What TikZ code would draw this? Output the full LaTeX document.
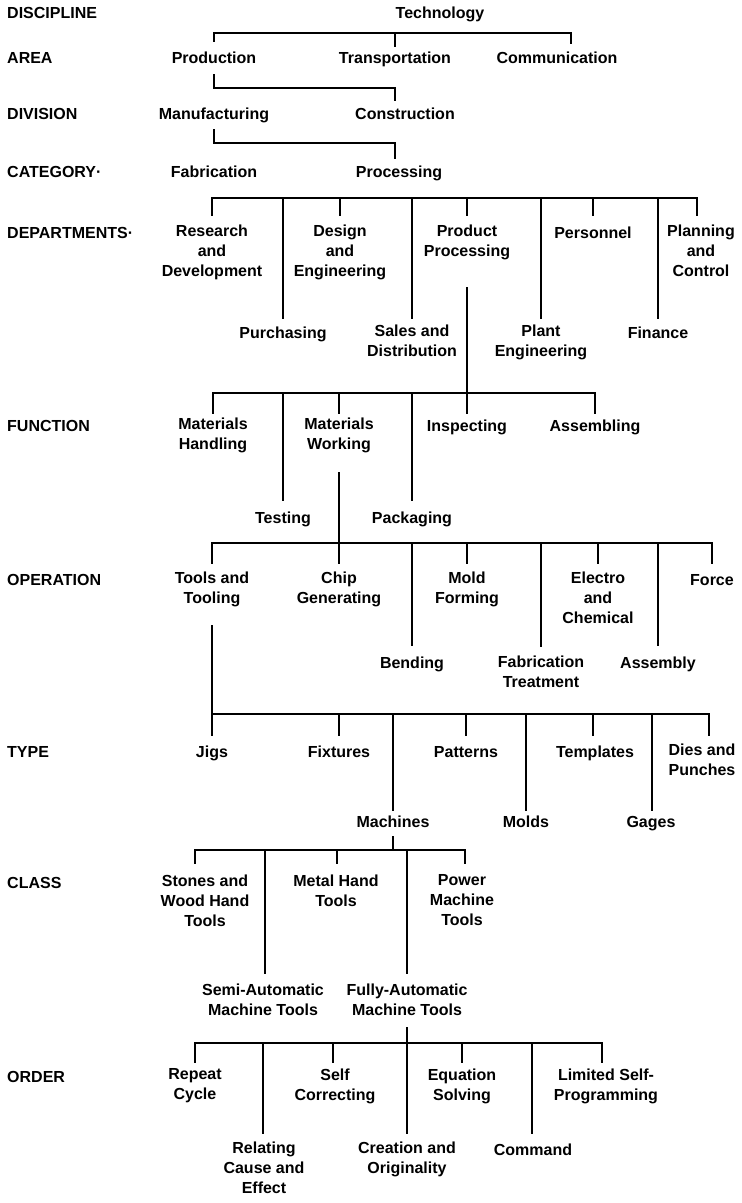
\documentclass[tikz,border=0pt]{standalone}
\usepackage{fontspec}
\setmainfont{Liberation Sans}
\usetikzlibrary{calc}
% tick from a bar down towards a node: [xshift]{bar}{node}{gap}
\newcommand\tk[4][0pt]{\draw[ln,shorten >=#4] ([xshift=#1]#3.north |- #2) -- ([xshift=#1]#3.north);}
\begin{document}
\begin{tikzpicture}[x=1pt,y=-1pt,
  ln/.style={line width=2.2pt,line cap=rect},
  lbl/.style={font=\bfseries\fontsize{16}{20}\selectfont,align=center,inner sep=0pt,
    anchor=north,yshift=8.3pt,execute at begin node=\strut,execute at end node=\strut},
  head/.style={font=\bfseries\fontsize{16}{20}\selectfont,inner sep=0pt,anchor=base west,yshift=-5.7pt}]
\useasboundingbox (0,0) rectangle (742,1203);
\fill[white] (0,0) rectangle (742,1203);

% level captions
\node[head] (hdis) at (7,13) {DISCIPLINE};
\node[head] (hare) at (7,58) {AREA};
\node[head] (hdiv) at (7,114) {DIVISION};
\node[head] (hcat) at (7,172) {CATEGORY·};
\node[head] (hdep) at (7,233) {DEPARTMENTS·};
\node[head] (hfun) at (7,426) {FUNCTION};
\node[head] (hope) at (7,580) {OPERATION};
\node[head] (htyp) at (7,752) {TYPE};
\node[head] (hcla) at (7,883) {CLASS};
\node[head] (hord) at (7,1077) {ORDER};

% bar heights
\coordinate (bar1) at (0,33);
\coordinate (bar2) at (0,88);
\coordinate (bar3) at (0,143);
\coordinate (bar4) at (0,198);
\coordinate (bar5) at (0,393);
\coordinate (bar6) at (0,543);
\coordinate (bar7) at (0,714);
\coordinate (bar8) at (0,850);
\coordinate (bar9) at (0,1043);

% discipline / area
\node[lbl] (tech) at (440,13) {Technology};
\node[lbl] (prod) at (214,58) {Production};
\node[lbl] (trans) at (395,58) {Transportation};
\node[lbl] (comm) at (557,58) {Communication};
\draw[ln] (prod.north |- bar1) -- ([xshift=14pt]comm.north |- bar1);
\tk{bar1}{prod}{8.7pt}
\tk{bar1}{trans}{3.7pt}
\tk[14pt]{bar1}{comm}{6.7pt}

% division
\node[lbl] (manu) at (214,114) {Manufacturing};
\node[lbl] (constr) at (405,114) {Construction};
\draw[ln,shorten <=5.3pt] (prod.south) -- (prod.south |- bar2) -- ([xshift=-10pt]constr.north |- bar2);
\tk[-10pt]{bar2}{constr}{5.7pt}

% category
\node[lbl] (fab) at (214,172) {Fabrication};
\node[lbl] (proc) at (399,172) {Processing};
\draw[ln,shorten <=4.3pt] (manu.south) -- (manu.south |- bar3) -- ([xshift=-4pt]proc.north |- bar3);
\tk[-4pt]{bar3}{proc}{5.7pt}

% departments
\node[lbl] (rd) at (212,233) {Research\\and\\Development};
\node[lbl] (pur) at (283,333) {Purchasing};
\node[lbl] (de) at (340,233) {Design\\and\\Engineering};
\node[lbl] (sd) at (412,333) {Sales and\\Distribution};
\node[lbl] (pp) at (467,233) {Product\\Processing};
\node[lbl] (pe) at (541,333) {Plant\\Engineering};
\node[lbl] (pers) at (593,233) {Personnel};
\node[lbl] (fin) at (658,333) {Finance};
\node[lbl] (plan) at (701,233) {Planning\\and\\Control};
\draw[ln] (rd.north |- bar4) -- ([xshift=-4pt]plan.north |- bar4);
\tk{bar4}{rd}{10pt}
\tk{bar4}{pur}{7pt}
\tk{bar4}{de}{10pt}
\tk{bar4}{sd}{7pt}
\tk{bar4}{pp}{10pt}
\tk{bar4}{pe}{7pt}
\tk{bar4}{pers}{10pt}
\tk{bar4}{fin}{7pt}
\tk[-4pt]{bar4}{plan}{10pt}

% function
\node[lbl] (mh) at (213,426) {Materials\\Handling};
\node[lbl] (test) at (283,518) {Testing};
\node[lbl] (mw) at (339,426) {Materials\\Working};
\node[lbl] (pack) at (412,518) {Packaging};
\node[lbl] (insp) at (467,426) {Inspecting};
\node[lbl] (asm) at (595,426) {Assembling};
\draw[ln,shorten <=25pt,shorten >=4.7pt] (pp.south) -- (insp.north);
\draw[ln] (mh.north |- bar5) -- (asm.north |- bar5);
\tk{bar5}{mh}{4.7pt}
\tk{bar5}{test}{9.7pt}
\tk{bar5}{mw}{4.7pt}
\tk{bar5}{pack}{9.7pt}
\tk{bar5}{asm}{4.7pt}

% operation
\node[lbl] (tt) at (212,580) {Tools and\\Tooling};
\node[lbl] (cg) at (339,580) {Chip\\Generating};
\node[lbl] (bend) at (412,663) {Bending};
\node[lbl] (mf) at (467,580) {Mold\\Forming};
\node[lbl] (ft) at (541,664) {Fabrication\\Treatment};
\node[lbl] (ec) at (598,580) {Electro\\and\\Chemical};
\node[lbl] (asmb) at (658,663) {Assembly};
\node[lbl] (force) at (712,580) {Force};
\draw[ln,shorten <=17.3pt,shorten >=8.7pt] (mw.south) -- (cg.north);
\draw[ln] (tt.north |- bar6) -- (force.north |- bar6);
\tk{bar6}{tt}{8.7pt}
\tk{bar6}{bend}{9.7pt}
\tk{bar6}{mf}{8.7pt}
\tk{bar6}{ft}{9.7pt}
\tk{bar6}{ec}{8.7pt}
\tk{bar6}{asmb}{9.7pt}
\tk{bar6}{force}{8.7pt}

% type
\node[lbl] (jigs) at (212,752) {Jigs};
\node[lbl] (fix) at (339,752) {Fixtures};
\node[lbl] (mach) at (393,822) {Machines};
\node[lbl] (pat) at (466,752) {Patterns};
\node[lbl] (molds) at (526,822) {Molds};
\node[lbl] (temp) at (595,752) {Templates};
\node[lbl] (gages) at (651,822) {Gages};
\node[lbl] (dies) at (702,752) {Dies and\\Punches};
\draw[ln,shorten <=16.3pt,shorten >=8.7pt] (tt.south) -- (jigs.north);
\draw[ln] (jigs.north |- bar7) -- ([xshift=7pt]dies.north |- bar7);
\tk{bar7}{fix}{8.7pt}
\tk{bar7}{mach}{3.7pt}
\tk{bar7}{pat}{8.7pt}
\tk{bar7}{molds}{3.7pt}
\tk[-2pt]{bar7}{temp}{8.7pt}
\tk[1pt]{bar7}{gages}{3.7pt}
\tk[7pt]{bar7}{dies}{8.7pt}

% class
\node[lbl] (swh) at (205,883) {Stones and\\Wood Hand\\Tools};
\node[lbl] (semi) at (263,992) {Semi-Automatic\\Machine Tools};
\node[lbl] (mht) at (336,883) {Metal Hand\\Tools};
\node[lbl] (fully) at (407,992) {Fully-Automatic\\Machine Tools};
\node[lbl] (pmt) at (462,883) {Power\\Machine\\Tools};
\draw[ln,shorten <=3.3pt] (mach.south) -- (mach.south |- bar8);
\draw[ln] ([xshift=-10pt]swh.north |- bar8) -- ([xshift=3pt]pmt.north |- bar8);
\tk[-10pt]{bar8}{swh}{11.7pt}
\tk[2pt]{bar8}{semi}{10.7pt}
\tk[1pt]{bar8}{mht}{11.7pt}
\tk{bar8}{fully}{10.7pt}
\tk[3pt]{bar8}{pmt}{11.7pt}

% order
\node[lbl] (rc) at (195,1077) {Repeat\\Cycle};
\node[lbl] (rel) at (264,1150) {Relating\\Cause and\\Effect};
\node[lbl] (sc) at (335,1077) {Self\\Correcting};
\node[lbl] (cre) at (407,1150) {Creation and\\Originality};
\node[lbl] (eq) at (462,1077) {Equation\\Solving};
\node[lbl] (cmd) at (533,1150) {Command};
\node[lbl] (lsp) at (606,1077) {Limited Self-\\Programming};
\draw[ln,shorten <=6.3pt,shorten >=8.7pt] (fully.south) -- (cre.north);
\draw[ln] (rc.north |- bar9) -- ([xshift=-4pt]lsp.north |- bar9);
\tk{bar9}{rc}{6.7pt}
\tk[-1pt]{bar9}{rel}{8.7pt}
\tk[-2pt]{bar9}{sc}{6.7pt}
\tk{bar9}{eq}{6.7pt}
\tk[-1pt]{bar9}{cmd}{8.7pt}
\tk[-4pt]{bar9}{lsp}{6.7pt}
\end{tikzpicture}
\end{document}
